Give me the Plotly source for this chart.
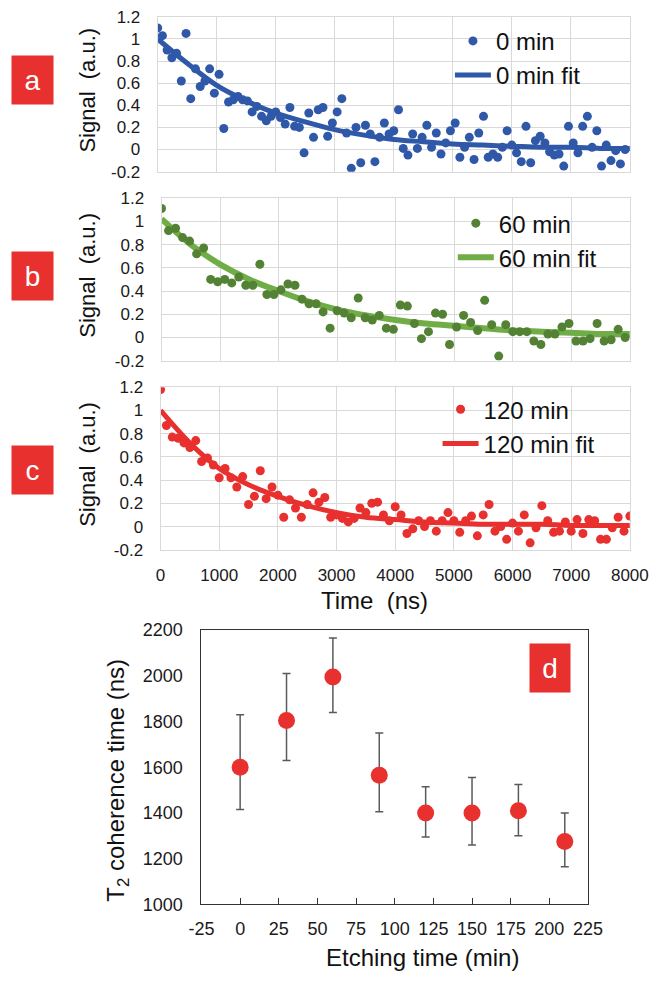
import plotly.graph_objects as go

W, H = 666, 982
FONT = "Liberation Sans, Arial, sans-serif"

# ---------------- data ----------------
T_A = list(range(0, 8000, 80))
SIG_A = [1.10, 1.03, 0.90, 0.83, 0.87, 0.62, 1.05, 0.46, 0.73, 0.57,
         0.62, 0.73, 0.51, 0.68, 0.19, 0.43, 0.45, 0.48, 0.45, 0.44,
         0.34, 0.39, 0.30, 0.26, 0.30, 0.34, 0.29, 0.23, 0.38, 0.21,
         0.20, -0.03, 0.33, 0.11, 0.36, 0.38, 0.12, 0.24, 0.34, 0.46,
         0.15, -0.17, 0.20, -0.12, 0.22, 0.14, -0.11, 0.11, 0.24, 0.14,
         0.17, 0.36, 0.01, -0.05, 0.14, 0.01, 0.11, 0.22, 0.02, 0.15,
         -0.04, 0.06, 0.17, 0.24, -0.07, 0.02, 0.11, -0.09, 0.15, 0.30,
         -0.07, -0.04, -0.07, 0.02, 0.17, 0.04, -0.03, -0.11, 0.21, -0.12,
         0.08, 0.12, 0.06, -0.02, -0.05, -0.04, -0.15, 0.21, 0.06, -0.03,
         0.21, 0.30, 0.02, 0.17, -0.15, 0.04, -0.10, -0.01, -0.13, 0.00]

T_B = list(range(0, 8000, 120))
SIG_B = [1.11, 0.92, 0.94, 0.86, 0.83, 0.72, 0.77, 0.50, 0.48, 0.50,
         0.47, 0.52, 0.45, 0.45, 0.63, 0.37, 0.37, 0.41, 0.46, 0.45,
         0.33, 0.29, 0.29, 0.22, 0.08, 0.23, 0.21, 0.17, 0.34, 0.17,
         0.15, 0.19, 0.08, 0.07, 0.28, 0.27, 0.12, -0.01, 0.05, 0.21,
         0.20, -0.06, 0.09, 0.19, 0.13, 0.06, 0.32, 0.11, -0.16, 0.11,
         0.05, 0.05, 0.05, -0.03, -0.06, 0.03, 0.03, 0.09, 0.12, -0.03,
         -0.03, -0.01, 0.12, -0.03, -0.02, 0.07, 0.00]

T_C = list(range(0, 8001, 100))
SIG_C = [1.18, 0.87, 0.77, 0.76, 0.72, 0.68, 0.74, 0.56, 0.59, 0.53,
         0.42, 0.50, 0.42, 0.34, 0.43, 0.19, 0.26, 0.48, 0.24, 0.34,
         0.27, 0.08, 0.23, 0.16, 0.08, 0.19, 0.29, 0.21, 0.25, 0.08,
         0.10, 0.07, 0.04, 0.07, 0.16, 0.12, 0.20, 0.21, 0.10, 0.05,
         0.17, 0.10, -0.06, -0.02, 0.05, 0.00, 0.05, -0.04, 0.05, 0.12,
         0.05, -0.05, 0.05, 0.09, -0.08, 0.10, 0.19, -0.04, 0.00, -0.11,
         0.03, -0.04, 0.10, -0.14, -0.01, 0.18, 0.05, -0.05, -0.04, 0.04,
         -0.04, 0.06, -0.06, 0.06, 0.05, -0.11, -0.11, -0.01, 0.08, -0.04,
         0.09]

FIT_T = list(range(0, 8001, 500))
FIT_A = [1.00, 0.78, 0.58, 0.44, 0.33, 0.25, 0.18, 0.13, 0.09, 0.07,
         0.05, 0.04, 0.03, 0.02, 0.02, 0.01, 0.01]
FIT_B = [1.02, 0.80, 0.63, 0.50, 0.40, 0.31, 0.24, 0.19, 0.15, 0.12,
         0.10, 0.08, 0.06, 0.05, 0.04, 0.03, 0.03]
FIT_C = [1.00, 0.72, 0.50, 0.36, 0.26, 0.18, 0.12, 0.08, 0.06, 0.04,
         0.03, 0.02, 0.02, 0.02, 0.01, 0.01, 0.01]

ETCH = [0, 30, 60, 90, 120, 150, 180, 210]
T2 = [1600, 1805, 1995, 1565, 1400, 1400, 1410, 1275]
T2_HI = [1830, 2010, 2165, 1750, 1515, 1555, 1525, 1400]
T2_LO = [1415, 1630, 1840, 1405, 1295, 1260, 1300, 1165]

SIG_TICKS = [-0.2, 0, 0.2, 0.4, 0.6, 0.8, 1, 1.2]
SIG_TICKTEXT = ["-0.2", "0", "0.2", "0.4", "0.6", "0.8", "1", "1.2"]
TIME_TICKS = [0, 1000, 2000, 3000, 4000, 5000, 6000, 7000, 8000]
ETCH_TICKS = [-25, 0, 25, 50, 75, 100, 125, 150, 175, 200, 225]
ETCH_TICKTEXT = ["-25", "0", "25", "50", "75", "100", "125", "150", "175", "200", "225"]
T2_TICKS = [1000, 1200, 1400, 1600, 1800, 2000, 2200]

PANELS = [
    dict(name="0 min", t=T_A, s=SIG_A, fit=FIT_A, dot="#2F58A8", line="#2F58A8", lw=5,
         x0=152, x1=648, ytop=7, ybot=165, leg=(459, 9), tag="a", tagy=71),
    dict(name="60 min", t=T_B, s=SIG_B, fit=FIT_B, dot="#548235", line="#70AD47", lw=6,
         x0=156, x1=648, ytop=192, ybot=358, leg=(462, 195), tag="b", tagy=272),
    dict(name="120 min", t=T_C, s=SIG_C, fit=FIT_C, dot="#E8302F", line="#E8302F", lw=5,
         x0=155, x1=648, ytop=385, ybot=551, leg=(446, 385), tag="c", tagy=470),
]

TAGRED = "#E8302F"
fig = go.Figure()


def px2x(p):
    return p / W


def px2y(p):
    return 1 - p / H


def label(x, y, text, size, angle=0, **kw):
    return dict(x=px2x(x), y=px2y(y), xref="paper", yref="paper", text=text,
                textangle=angle, showarrow=False, xanchor="center", yanchor="middle",
                font=dict(family=FONT, size=size, color=kw.pop("color", "#111111")), **kw)


annotations = []
for k, P in enumerate(PANELS):
    n = "" if k == 0 else str(k + 1)
    xa, ya = "x" + n, "y" + n
    lg = "legend" if k == 0 else "legend" + str(k + 1)
    fig.add_trace(go.Scatter(x=FIT_T, y=P["fit"], mode="lines", name=P["name"] + " fit",
                             line=dict(color=P["line"], width=P["lw"], shape="spline"),
                             xaxis=xa, yaxis=ya, legend=lg, legendrank=2))
    fig.add_trace(go.Scatter(x=P["t"], y=P["s"], mode="markers", name=P["name"],
                             marker=dict(color=P["dot"], size=9),
                             xaxis=xa, yaxis=ya, legend=lg, legendrank=1))
    axcommon = dict(showline=True, mirror=True, linecolor="#D9D9D9", linewidth=1,
                    showgrid=True, gridcolor="#D9D9D9", gridwidth=1, zeroline=False,
                    tickfont=dict(family=FONT, size=17, color="#1a1a1a"), ticks="")
    fig.layout["xaxis" + n] = dict(axcommon, domain=[px2x(P["x0"]), px2x(P["x1"])],
                                   range=[0, 8000], tickvals=TIME_TICKS,
                                   showticklabels=(k == 2), anchor=ya,
                                   ticklabelstandoff=10)
    fig.layout["yaxis" + n] = dict(axcommon, domain=[px2y(P["ybot"]), px2y(P["ytop"])],
                                   range=[-0.2, 1.2], tickvals=SIG_TICKS,
                                   ticktext=SIG_TICKTEXT, anchor=xa,
                                   ticklabelstandoff=13)
    fig.layout[lg] = dict(x=px2x(P["leg"][0]), y=px2y(P["leg"][1]), xanchor="left",
                          yanchor="top", bgcolor="rgba(0,0,0,0)",
                          font=dict(family=FONT, size=24, color="#111111"),
                          tracegroupgap=0, itemwidth=36)
    annotations.append(label(78, (P["ytop"] + P["ybot"]) / 2 - 4,
                             "Signal\u00a0 (a.u.)", 22, angle=-90))
    annotations.append(label(20.5, P["tagy"], P["tag"], 28, color="white",
                             bgcolor=TAGRED, width=41, height=48, borderpad=0))

annotations.append(label(380, 603, "Time\u00a0 (ns)", 24))

# panel d
fig.add_trace(go.Scatter(x=ETCH, y=T2, mode="markers", name="T2",
                         marker=dict(color="#E8302F", size=17),
                         error_y=dict(type="data", array=[h - v for h, v in zip(T2_HI, T2)],
                                      arrayminus=[v - l for l, v in zip(T2_LO, T2)],
                                      color="#5a5a5a", thickness=1.5, width=4),
                         xaxis="x4", yaxis="y4", showlegend=False))
fig.layout["xaxis4"] = dict(domain=[px2x(198), px2x(604)], range=[-25, 225],
                            tickvals=ETCH_TICKS, ticktext=ETCH_TICKTEXT,
                            showline=True, mirror=True, linecolor="#333333", linewidth=1.3,
                            showgrid=False, zeroline=False, ticks="inside", ticklen=6,
                            tickcolor="#333333", anchor="y4", ticklabelstandoff=8,
                            tickfont=dict(family=FONT, size=18, color="#1a1a1a"))
fig.layout["yaxis4"] = dict(domain=[px2y(913), px2y(633)], range=[1000, 2200],
                            tickvals=T2_TICKS, showline=True, mirror=True,
                            linecolor="#333333", linewidth=1.3, showgrid=False,
                            zeroline=False, ticks="", anchor="x4", ticklabelstandoff=14,
                            tickfont=dict(family=FONT, size=18, color="#1a1a1a"))
annotations.append(label(110, 786, "T<sub>2</sub> coherence time (ns)", 24, angle=-90))
annotations.append(label(430, 967, "Etching time (min)", 24))
annotations.append(label(564, 672, "d", 28, color="white",
                         bgcolor=TAGRED, width=40, height=48, borderpad=0))

fig.update_layout(width=W, height=H, margin=dict(l=0, r=0, t=0, b=0),
                  paper_bgcolor="white", plot_bgcolor="white",
                  annotations=annotations, showlegend=True)
fig.write_html("out.html", config={"displayModeBar": False},
               post_script="document.body.style.margin='0px';"
                           "document.body.style.padding='0px';")
